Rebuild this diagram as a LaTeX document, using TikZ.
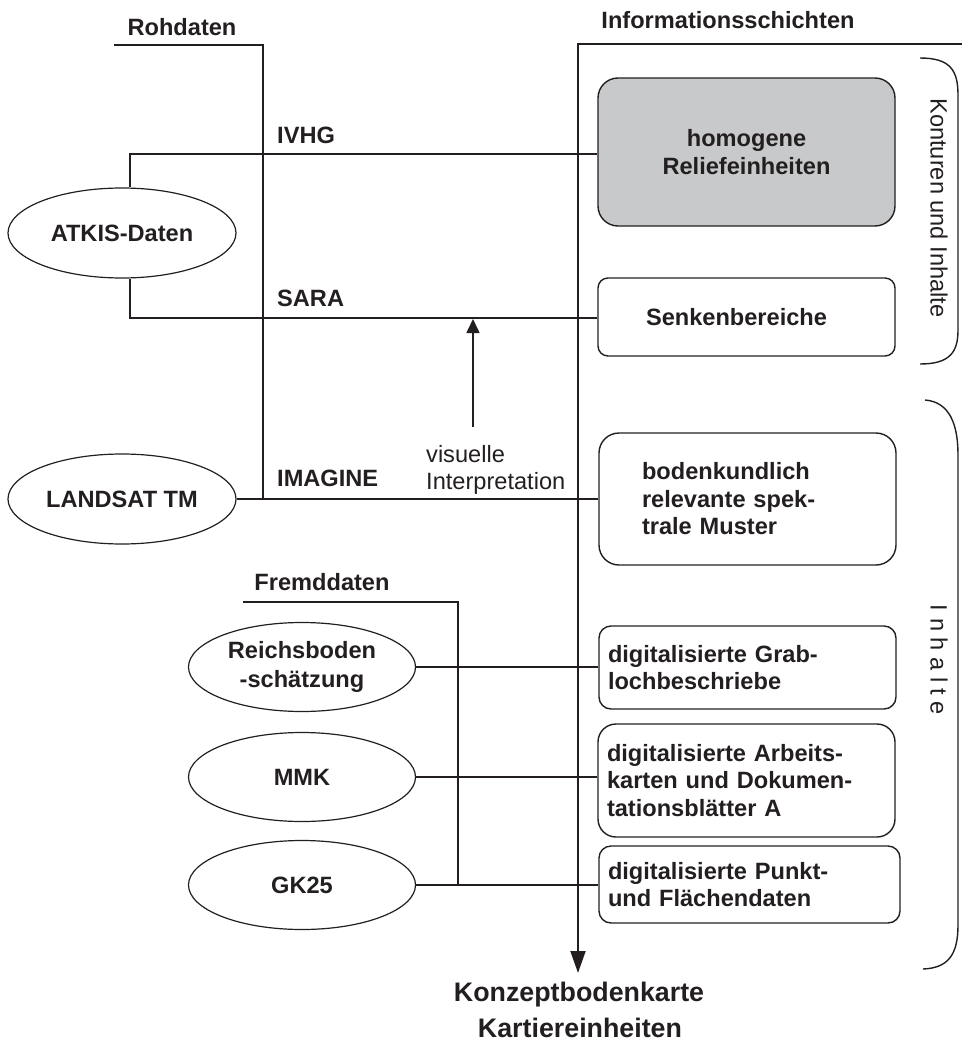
\documentclass[tikz,border=0pt]{standalone}
\usepackage{fontspec}
\setmainfont{Liberation Sans}
\usetikzlibrary{arrows.meta,shapes.geometric}
\definecolor{ink}{RGB}{35,31,32}
\definecolor{boxgray}{RGB}{200,201,202}
\begin{document}
\begin{tikzpicture}[x=1pt,y=-1pt,
  font=\fontsize{23.6}{27.5}\selectfont,
  every node/.style={text=ink},
  bold/.style={font=\fontsize{23.6}{27.5}\selectfont\bfseries},
  bigbold/.style={font=\fontsize{26.8}{30}\selectfont\bfseries},
  plain/.style={font=\fontsize{23.6}{26.5}\selectfont},
  ell/.style={ellipse, draw=ink, line width=1.2pt, minimum width=228pt, minimum height=90pt, inner sep=0pt, align=center, font=\fontsize{23.6}{29}\selectfont\bfseries},
  infobox/.style={rectangle, draw=ink, line width=1.4pt, inner ysep=0pt, minimum width=297pt, font=\fontsize{23.6}{27.5}\selectfont\bfseries},
  conn/.style={draw=ink, line width=1.3pt},
  mainline/.style={draw=ink, line width=2pt},
  bracket/.style={draw=ink, line width=1.4pt},
  lbl/.style={bold, anchor=west, inner sep=0pt}
]
\useasboundingbox (0,0) rectangle (962,1041);

% headings
\node[bold, inner sep=0pt] (rohtxt) at (182,27) {Rohdaten};
\node[bold, inner sep=0pt] (inftxt) at (728,20) {Informationsschichten};
\node[bold, inner sep=0pt] (fremdtxt) at (322,582) {Fremddaten};

% source ellipses
\node[ell] (atkis) at (122,233) {ATKIS-Daten};
\node[ell] (landsat) at (122,499) {LANDSAT TM};
\node[ell, minimum width=227pt, minimum height=89pt] (reich) at (302,667) {Reichsboden\\-schätzung};
\node[ell, minimum width=227pt, minimum height=89pt] (mmk) at (302,777) {MMK};
\node[ell, minimum width=227pt, minimum height=89pt] (gk) at (302,885) {GK25};

% information boxes
\node[infobox, fill=boxgray, rounded corners=20pt, minimum height=148pt, align=center] (b1) at (746.5,152) {homogene\\Reliefeinheiten};
\node[infobox, rounded corners=10pt, minimum height=78pt, inner xsep=48pt, text width=201pt, align=left] (b2) at (746.5,317) {Senkenbereiche};
\node[infobox, rounded corners=20pt, minimum height=132pt, inner xsep=43pt, text width=211pt, align=left] (b3) at (747.5,499) {bodenkundlich\\relevante spek-\\trale Muster};
\node[infobox, rounded corners=12pt, minimum height=83pt, inner xsep=9pt, text width=279pt, align=left] (b4) at (747.5,667.5) {digitalisierte Grab-\\lochbeschriebe};
\node[infobox, rounded corners=18pt, minimum height=113pt, inner xsep=9pt, text width=279pt, align=left] (b5) at (746.5,780.5) {digitalisierte Arbeits-\\karten und Dokumen-\\tationsblätter A};
\node[infobox, rounded corners=12pt, minimum height=77pt, minimum width=301pt, inner xsep=9pt, text width=283pt, align=left] (b6) at (749.5,884.5) {digitalisierte Punkt-\\und Flächendaten};

% Rohdaten bar
\coordinate (rohL) at (114,45);
\coordinate (rohC) at (263,45);
\coordinate (rohB) at (263,499);
\draw[mainline] (rohL) -- (rohC) -- (rohB);

% Informationsschichten bar with arrow
\coordinate (infR) at (962,44);
\coordinate (infC) at (578,44);
\coordinate (infB) at (578,973);
\draw[mainline, -{Triangle[length=22pt,width=15pt]}] (infR) -- (infC) -- (infB);

% Fremddaten bar
\coordinate (frL) at (243,602);
\coordinate (frC) at (458,602);
\coordinate (frB) at (458,885);
\draw[mainline, line width=1.7pt] (frL) -- (frC) -- (frB);

% ATKIS connections
\coordinate (ivhgL) at (130,154);
\coordinate (saraL) at (130,318);
\draw[conn] (atkis.north -| ivhgL) -- (ivhgL) -- (ivhgL -| b1.west);
\draw[conn] (atkis.south -| saraL) -- (saraL) -- (saraL -| b2.west);
\draw[conn] (landsat.east) -- (b3.west);

% Fremddaten connections
\draw[conn] (reich.east) -- (reich.east -| b4.west);
\draw[conn] (mmk.east) -- (mmk.east -| b5.west);
\draw[conn] (gk.east) -- (gk.east -| b6.west);

% labels on lines
\node[lbl] (ivhg) at (277,135) {IVHG};
\node[lbl] (sara) at (277,298) {SARA};
\node[lbl] (imagine) at (277,478) {IMAGINE};

% visual interpretation arrow
\coordinate (visS) at (473,427);
\coordinate (visT) at (473,319);
\draw[conn, line width=1.6pt, -{Triangle[length=14pt,width=13pt]}] (visS) -- (visT);
\node[plain, anchor=west, inner sep=0pt, align=left] (vis) at (426,470) {visuelle\\Interpretation};

% brackets
\draw[bracket] (920,58) .. controls (950,58) and (958,70) .. (958,95) -- (958,330) .. controls (958,352) and (950,364) .. (920,364);
\draw[bracket] (925,400) .. controls (950,402) and (958,425) .. (958,455) -- (958,925) .. controls (958,955) and (948,968) .. (923,969);
\node[plain, rotate=-90, inner sep=0pt] (kui) at (939,208) {Konturen und Inhalte};
\node[plain, rotate=-90, inner sep=0pt] (inh) at (939,660) {I n h a l t e};

% result
\node[bigbold, anchor=base, inner sep=0pt] (konz) at (579,1001) {Konzeptbodenkarte};
\node[bigbold, anchor=base, inner sep=0pt] (kart) at (580,1037) {Kartiereinheiten};
\end{tikzpicture}
\end{document}
